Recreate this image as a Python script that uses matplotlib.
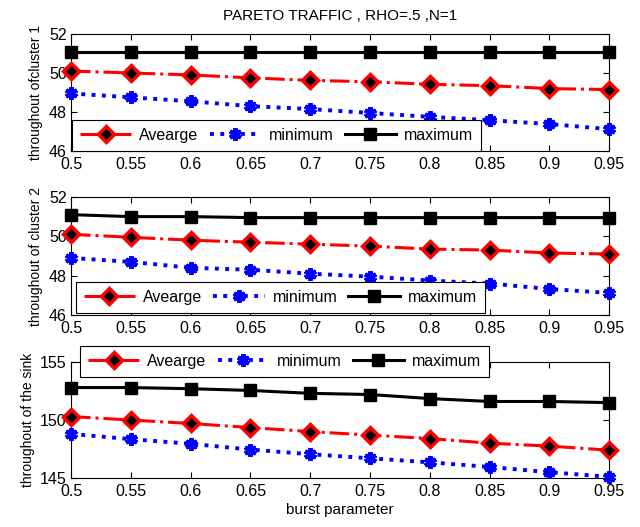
import numpy as np
import matplotlib
matplotlib.use('Agg')
import matplotlib.pyplot as plt

plt.rcParams['font.family'] = ['Liberation Sans', 'DejaVu Sans']

# burst parameter
burst = [0.5, 0.55, 0.6, 0.65, 0.7, 0.75, 0.8, 0.85, 0.9, 0.95]
xtick_labels = ['0.5', '0.55', '0.6', '0.65', '0.7', '0.75', '0.8', '0.85', '0.9', '0.95']

# cluster 1
c1_avg = [50.1, 50.0, 49.9, 49.75, 49.62, 49.55, 49.42, 49.35, 49.2, 49.15]
c1_min = [48.95, 48.75, 48.55, 48.3, 48.15, 47.95, 47.75, 47.58, 47.38, 47.12]
c1_max = [51.1, 51.1, 51.1, 51.1, 51.1, 51.1, 51.1, 51.1, 51.1, 51.1]

# cluster 2
c2_avg = [50.1, 49.95, 49.8, 49.7, 49.6, 49.5, 49.35, 49.3, 49.15, 49.1]
c2_min = [48.9, 48.7, 48.4, 48.3, 48.1, 47.95, 47.75, 47.6, 47.32, 47.12]
c2_max = [51.1, 51.0, 51.0, 50.95, 50.95, 50.95, 50.95, 50.95, 50.95, 50.95]

# sink
s_avg = [150.3, 150.0, 149.7, 149.35, 149.0, 148.7, 148.4, 148.0, 147.75, 147.4]
s_min = [148.8, 148.35, 147.95, 147.45, 147.05, 146.7, 146.35, 145.95, 145.5, 145.1]
s_max = [152.8, 152.8, 152.7, 152.55, 152.3, 152.2, 151.85, 151.6, 151.6, 151.5]

fig = plt.figure(figsize=(6.4, 5.27), dpi=100)
ax1 = fig.add_axes([0.111, 0.7135, 0.841, 0.222])
ax2 = fig.add_axes([0.111, 0.4023, 0.841, 0.224])
ax3 = fig.add_axes([0.111, 0.093, 0.841, 0.220])

leg_kw = dict(ncol=3, fontsize=11.5, handlelength=3.2, columnspacing=0.7,
              handletextpad=0.5, fancybox=False, edgecolor='black', framealpha=1,
              numpoints=1, borderaxespad=0, borderpad=0.5)


def draw(ax, avg, mn, mx):
    ax.plot(burst, avg, color='red', linestyle='-.', linewidth=2.2, marker='D',
            markersize=8.5, markerfacecolor='black', markeredgecolor='red',
            markeredgewidth=2.5, clip_on=False, label='Avearge', zorder=3)
    ax.plot(burst, mn, color='blue', linestyle=':', linewidth=2.8, marker=(6, 2, 0),
            markersize=9, markeredgecolor='blue', markeredgewidth=3,
            clip_on=False, label='minimum', zorder=3)
    ax.plot(burst, mx, color='black', linestyle='-', linewidth=2.2, marker='s',
            markersize=9, markerfacecolor='black', markeredgecolor='black',
            clip_on=False, label='maximum', zorder=3)
    ax.set_xlim(0.5, 0.95)
    ax.set_xticks(burst)
    ax.set_xticklabels(xtick_labels)
    ax.tick_params(direction='in', top=True, right=True, labelsize=11.5, length=4)
    ax.tick_params(axis='x', pad=4.5)
    ax.tick_params(axis='y', pad=3)
    for s in ax.spines.values():
        s.set_linewidth(0.8)


draw(ax1, c1_avg, c1_min, c1_max)
ax1.set_ylim(46, 52)
ax1.set_yticks([46, 48, 50, 52])
ax1.set_ylabel('throughout ofcluster 1', fontsize=10, labelpad=4)
ax1.set_title('PARETO TRAFFIC , RHO=.5 ,N=1', fontsize=11, pad=10)
leg = ax1.legend(loc='lower left', bbox_to_anchor=(0.002, 0.0), **leg_kw)
leg.get_frame().set_linewidth(0.8)

draw(ax2, c2_avg, c2_min, c2_max)
ax2.set_ylim(46, 52)
ax2.set_yticks([46, 48, 50, 52])
ax2.set_ylabel('throughout of cluster 2', fontsize=10, labelpad=4)
leg = ax2.legend(loc='lower left', bbox_to_anchor=(0.009, 0.02), **leg_kw)
leg.get_frame().set_linewidth(0.8)

draw(ax3, s_avg, s_min, s_max)
ax3.set_ylim(145, 155)
ax3.set_yticks([145, 150, 155])
ax3.set_ylabel('throughout of the sink', fontsize=10, labelpad=4)
ax3.set_xlabel('burst parameter', fontsize=11, labelpad=3)
leg = ax3.legend(loc='upper left', bbox_to_anchor=(0.017, 1.138), **leg_kw)
leg.get_frame().set_linewidth(0.8)

plt.savefig('out.png', dpi=100)
